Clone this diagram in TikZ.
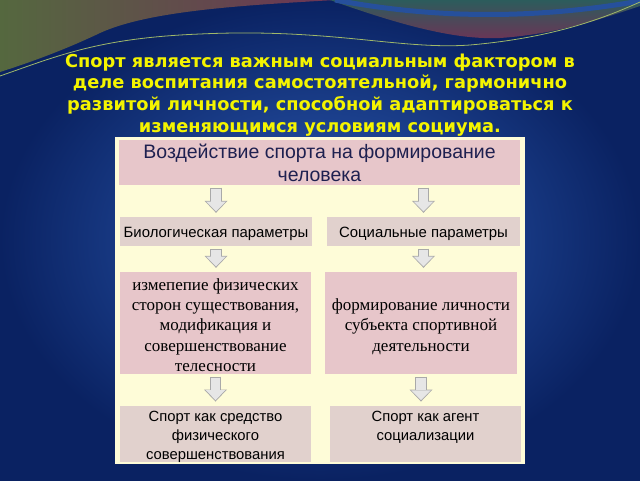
\documentclass[tikz,border=0pt]{standalone}
\usepackage{fontspec}
\setmainfont{Liberation Serif}
\newfontfamily\arialfont{Liberation Sans}
\newfontfamily\headfont{DejaVu Sans}
\usetikzlibrary{positioning,arrows.meta}

\definecolor{slideblue}{HTML}{2D5EB8}
\definecolor{slidedark}{HTML}{0A2262}
\definecolor{panelcream}{HTML}{FEFCD8}
\definecolor{rosefill}{HTML}{E7C6CA}
\definecolor{greyfill}{HTML}{E1D1CD}
\definecolor{navytext}{HTML}{1E2050}
\definecolor{titleyellow}{HTML}{F4F400}
\definecolor{arrowedge}{HTML}{A9A9A9}
\definecolor{arrowfill}{HTML}{E6E6E6}
\definecolor{wavemaroon}{HTML}{6C3456}
\definecolor{waveolive}{HTML}{55683F}
\definecolor{waveteal}{HTML}{2C5C5C}
\definecolor{wavelight}{HTML}{9FB86A}

% invisible rules that set where the text sits inside a box
\newcommand{\boxstrut}[1]{\rule{0pt}{#1}}
\newcommand{\boxdepth}[1]{\rule[-#1]{0pt}{0pt}}

\tikzset{
  headbox/.style={fill=rosefill, inner sep=0pt, align=center, text=navytext,
    font=\arialfont\fontsize{19.5}{23}\selectfont},
  parambox/.style={fill=greyfill, inner sep=0pt, align=center,
    font=\arialfont\fontsize{14.9}{19}\selectfont},
  rosebox/.style={fill=rosefill, inner sep=0pt, align=center,
    font=\fontsize{17}{20.4}\selectfont},
  resultbox/.style={fill=greyfill, inner sep=0pt, align=center,
    font=\arialfont\fontsize{14.8}{19}\selectfont},
  flowarrow/.style={draw=arrowedge, line width=11.5pt,
    -{Triangle[width=23pt,length=12pt,line width=0pt]},
    shorten <=2.5pt, shorten >=4pt,
    postaction={draw=arrowfill, line width=9.5pt,
      -{Triangle[width=19.5pt,length=9.8pt,line width=0pt]},
      shorten <=3.5pt, shorten >=5.5pt}}
}

\begin{document}
\begin{tikzpicture}[x=1pt,y=-1pt]
      \useasboundingbox (0,0) rectangle (640,480);

      % slide background
      \shade[inner color=slideblue, outer color=slidedark] (0,0) rectangle (640,480);
      \shade[left color=waveolive, right color=wavemaroon]
        (0,0) -- (335,0) .. controls (250,5) and (150,10) .. (100,33)
        .. controls (60,52) and (25,64) .. (0,72) -- cycle;
      \shade[top color=waveteal, bottom color=wavemaroon]
        (330,0) .. controls (400,25) and (455,40) .. (500,38)
        .. controls (560,34) and (610,16) .. (640,6) -- (640,0) -- cycle;
      \draw[slideblue!85!black, line width=5pt]
        (335,0) .. controls (420,16) and (520,22) .. (640,1);
      \draw[wavelight, line width=0.8pt]
        (0,76) .. controls (60,55) and (100,38) .. (200,34)
        .. controls (330,28) and (400,50) .. (470,45)
        .. controls (550,38) and (600,20) .. (640,2);

      % motto
      \node (motto) [anchor=north, align=center, text=titleyellow,
        font=\headfont\bfseries\fontsize{17.8}{21.7}\selectfont] at (320,50)
        {Спорт является важным социальным фактором в\\
         деле воспитания самостоятельной, гармонично\\
         развитой личности, способной адаптироваться к\\
         изменяющимся условиям социума.};

      % cream panel
      \fill[panelcream] (115,137) rectangle (525,464);

      % boxes
      \node (impact) [headbox, minimum width=401pt, minimum height=45pt] at (319.5,162.5)
        {Воздействие спорта на формирование\\человека};
      \node (bio) [parambox, minimum width=192pt, minimum height=29pt] at (216,231.5)
        {\boxstrut{14.5pt}Биологическая параметры};
      \node (social) [parambox, minimum width=193pt, minimum height=29pt] at (423.5,231.5)
        {\boxstrut{14.5pt}Социальные параметры};
      \node (body) [rosebox, minimum width=191pt, minimum height=102pt] at (215.5,323)
        {\boxstrut{18pt}измепепие физических\\сторон существования,\\модификация и\\совершенствование\\телесности\boxdepth{2.4pt}};
      \node (person) [rosebox, minimum width=192pt, minimum height=102pt] at (421,323)
        {\boxstrut{38.5pt}формирование личности\\субъекта спортивной\\деятельности\boxdepth{22.6pt}};
      \node (means) [resultbox, minimum width=191pt, minimum height=56pt] at (215.5,434)
        {\boxstrut{15.5pt}Спорт как средство\\физического\\совершенствования};
      \node (agent) [resultbox, minimum width=191pt, minimum height=56pt] at (425.5,434)
        {\boxstrut{15.5pt}Спорт как агент\\социализации\boxdepth{22pt}};

      % arrows between the boxes
      \draw[flowarrow] (bio.north |- impact.south) -- (bio.north);
      \draw[flowarrow] (social.north |- impact.south) -- (social.north);
      \draw[flowarrow] (bio.south) -- (bio.south |- body.north);
      \draw[flowarrow] (social.south) -- (social.south |- person.north);
      \draw[flowarrow] (body.south) -- (means.north);
      \draw[flowarrow] (person.south) -- (person.south |- agent.north);
\end{tikzpicture}
\end{document}
